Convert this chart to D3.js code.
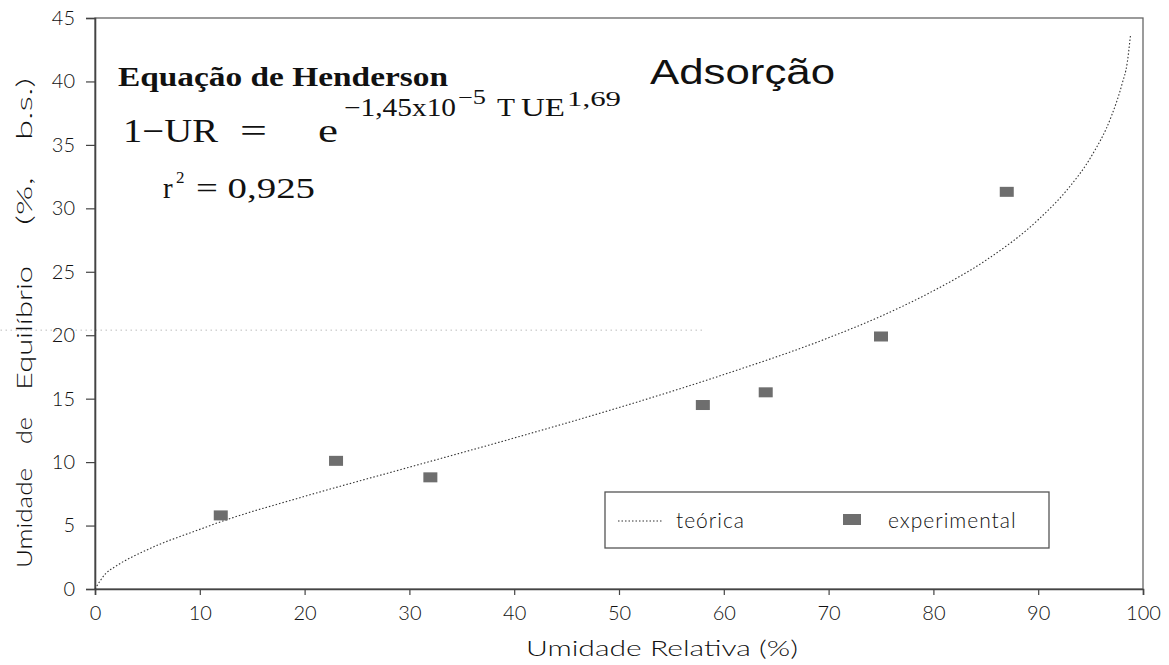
<!DOCTYPE html>
<html>
<head>
<meta charset="utf-8">
<script src="https://cdn.jsdelivr.net/npm/d3@7"></script>
<style>
  body { margin: 0; background: #fff; }
</style>
</head>
<body>
<div id="chart"></div>
<script>
// pontos experimentais (adsorção)
const expUR = [12, 23, 32, 58, 64, 75, 87];
const expUE = [5.8, 10.1, 8.8, 14.5, 15.5, 19.9, 31.3];

// curva teórica
const teoUR = [0, 1, 2, 5, 10, 12, 20, 30, 40, 50, 60, 70, 75, 80, 85, 90, 93, 95, 97, 98, 98.5, 98.8];
const teoUE = [0, 1.2, 1.8, 3.1, 4.7, 5.3, 7.3, 9.6, 11.9, 14.3, 16.9, 19.8, 21.5, 23.5, 25.9, 29.1, 31.7, 34.0, 37.3, 39.8, 41.5, 43.6];

const xTicks = [0, 10, 20, 30, 40, 50, 60, 70, 80, 90, 100];
const yTicks = [0, 5, 10, 15, 20, 25, 30, 35, 40, 45];

const W = 1169, H = 665;
const m = { left: 95, right: 26, top: 18, bottom: 76 };

const svg = d3.select("#chart").append("svg")
  .attr("width", W)
  .attr("height", H);

const x = d3.scaleLinear().domain([0, 100]).range([m.left, W - m.right]);
const y = d3.scaleLinear().domain([0, 45]).range([H - m.bottom, m.top]);

const tickFont = "Lato, 'Open Sans', sans-serif";
const serif = "'Liberation Serif', 'DejaVu Serif', serif";

// moldura
svg.append("rect")
  .attr("x", x(0)).attr("y", y(45))
  .attr("width", x(100) - x(0)).attr("height", y(0) - y(45))
  .attr("fill", "none")
  .attr("stroke", "#666")
  .attr("stroke-width", 1.3);

// linha pontilhada residual do original
svg.append("line")
  .attr("x1", x(-9)).attr("x2", x(58))
  .attr("y1", y(20.4)).attr("y2", y(20.4))
  .attr("stroke", "#999")
  .attr("stroke-width", 1)
  .attr("stroke-dasharray", "1,4");

const xAxis = svg.append("g")
  .attr("transform", `translate(0,${y(0)})`)
  .call(d3.axisBottom(x).tickValues(xTicks).tickSize(6).tickPadding(11));

const yAxis = svg.append("g")
  .attr("transform", `translate(${x(0)},0)`)
  .call(d3.axisLeft(y).tickValues(yTicks).tickSize(9).tickPadding(11));

[xAxis, yAxis].forEach(g => {
  g.select(".domain").attr("stroke", "#444").attr("stroke-width", 1.6);
  g.selectAll(".tick line").attr("stroke", "#444").attr("stroke-width", 1.2);
  g.selectAll(".tick text")
    .attr("font-family", tickFont)
    .attr("font-weight", 300)
    .attr("font-size", 20)
    .attr("fill", "#111");
});

// títulos dos eixos
svg.append("text")
  .attr("x", 526).attr("y", 656)
  .attr("font-family", tickFont)
  .attr("font-weight", 300)
  .attr("font-size", 22)
  .attr("fill", "#111")
  .attr("textLength", 272)
  .attr("lengthAdjust", "spacingAndGlyphs")
  .text("Umidade Relativa (%)");

// título vertical, palavras bem espaçadas como no original
const yTitleWords = [
  { t: "Umidade", p: 0, w: 100 },
  { t: "de", p: 124, w: 27 },
  { t: "Equilíbrio", p: 178, w: 124 },
  { t: "(%,", p: 343, w: 48 },
  { t: "b.s.)", p: 428, w: 62 }
];
const yTitle = svg.append("text")
  .attr("transform", "translate(32,568) rotate(-90)")
  .attr("font-family", tickFont)
  .attr("font-weight", 300)
  .attr("font-size", 22)
  .attr("fill", "#111");
yTitleWords.forEach(d => {
  yTitle.append("tspan")
    .attr("x", d.p).attr("y", 0)
    .attr("textLength", d.w)
    .attr("lengthAdjust", "spacingAndGlyphs")
    .text(d.t);
});

// curva teórica
const line = d3.line()
  .x((d, i) => x(teoUR[i]))
  .y(d => y(d))
  .curve(d3.curveMonotoneX);

svg.append("path")
  .datum(teoUE)
  .attr("d", line)
  .attr("fill", "none")
  .attr("stroke", "#333")
  .attr("stroke-width", 1.1)
  .attr("stroke-dasharray", "1.5,2");

// pontos experimentais
svg.selectAll("rect.pt")
  .data(expUE)
  .enter()
  .append("rect")
  .attr("class", "pt")
  .attr("x", (d, i) => x(expUR[i]) - 7)
  .attr("y", d => y(d) - 5)
  .attr("width", 14)
  .attr("height", 10)
  .attr("fill", "#6e6e6e");

// anotações
svg.append("text")
  .attr("x", 118).attr("y", 86)
  .attr("font-family", serif)
  .attr("font-size", 28)
  .attr("font-weight", "bold")
  .attr("fill", "#111")
  .attr("textLength", 330)
  .attr("lengthAdjust", "spacingAndGlyphs")
  .text("Equação de Henderson");

svg.append("text")
  .attr("x", 650).attr("y", 84)
  .attr("font-family", "'Liberation Sans', Arial, sans-serif")
  .attr("font-size", 35)
  .attr("fill", "#111")
  .attr("textLength", 185)
  .attr("lengthAdjust", "spacingAndGlyphs")
  .text("Adsorção");

const eq = svg.append("text")
  .attr("font-family", serif)
  .attr("fill", "#111");
const eqParts = [
  { t: "1−UR", x: 123, y: 142, s: 33, w: 95 },
  { t: "=", x: 240, y: 142, s: 33, w: 27 },
  { t: "e", x: 318, y: 142, s: 33, w: 20 },
  { t: "−1,45x10", x: 344, y: 116, s: 25, w: 112 },
  { t: "−5", x: 458, y: 104, s: 20, w: 28 },
  { t: "T", x: 497, y: 116, s: 25, w: 18 },
  { t: "UE", x: 521, y: 116, s: 25, w: 44 },
  { t: "1,69", x: 567, y: 106, s: 20, w: 54 }
];
eqParts.forEach(p => {
  eq.append("tspan")
    .attr("x", p.x).attr("y", p.y)
    .attr("font-size", p.s)
    .attr("textLength", p.w)
    .attr("lengthAdjust", "spacingAndGlyphs")
    .text(p.t);
});

const r2 = svg.append("text")
  .attr("font-family", serif)
  .attr("fill", "#111");
r2.append("tspan").attr("x", 163).attr("y", 198).attr("font-size", 29).text("r");
r2.append("tspan").attr("x", 176).attr("y", 183).attr("font-size", 17).text("2");
r2.append("tspan").attr("x", 196).attr("y", 198).attr("font-size", 29)
  .attr("textLength", 119).attr("lengthAdjust", "spacingAndGlyphs")
  .text("= 0,925");

// legenda
const lg = svg.append("g");
lg.append("rect")
  .attr("x", 605).attr("y", 492)
  .attr("width", 444).attr("height", 56)
  .attr("fill", "#fff")
  .attr("stroke", "#555")
  .attr("stroke-width", 1.3);
lg.append("line")
  .attr("x1", 618).attr("x2", 663)
  .attr("y1", 521).attr("y2", 521)
  .attr("stroke", "#333")
  .attr("stroke-width", 1.1)
  .attr("stroke-dasharray", "1.5,2");
lg.append("text")
  .attr("x", 676).attr("y", 528)
  .attr("font-family", tickFont)
  .attr("font-weight", 300)
  .attr("font-size", 21)
  .attr("fill", "#111")
  .attr("letter-spacing", 1)
  .text("teórica");
lg.append("rect")
  .attr("x", 843).attr("y", 514)
  .attr("width", 18).attr("height", 11)
  .attr("fill", "#6e6e6e");
lg.append("text")
  .attr("x", 888).attr("y", 528)
  .attr("font-family", tickFont)
  .attr("font-weight", 300)
  .attr("font-size", 21)
  .attr("fill", "#111")
  .attr("letter-spacing", 1)
  .text("experimental");
</script>
</body>
</html>
